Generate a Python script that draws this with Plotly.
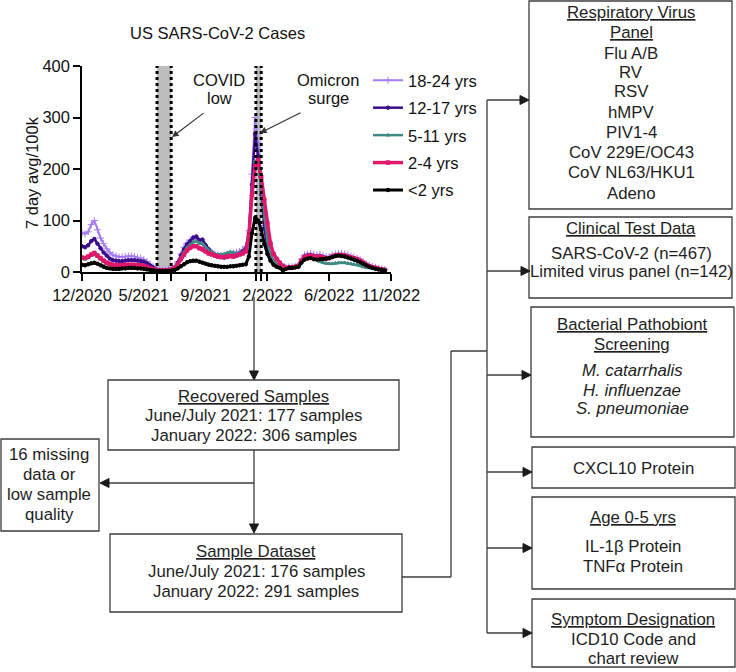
import plotly.graph_objects as go
import pandas as pd

W, H = 736, 672
FONT = "Arial, Liberation Sans, sans-serif"
FS = 16.8  # flowchart font size

# ---------------- data ----------------
week_dates = pd.date_range("2020-12-15", periods=99, freq="7D")

age_18_24 = [76, 74, 78, 92, 100, 82, 66, 55, 45, 38,
             33, 31, 29, 29, 30, 31, 31, 30, 28, 27,
             24, 20, 15, 10, 6, 4, 4, 4, 5, 6,
             10, 20, 35, 48, 56, 62, 65, 63, 58, 55,
             48, 42, 38, 35, 33, 32, 32, 34, 36, 36,
             38, 40, 43, 50, 80, 190, 300, 250, 160, 90,
             50, 30, 20, 14, 11, 8, 9, 10, 10, 11,
             14, 25, 33, 35, 36, 34, 33, 34, 32, 30,
             30, 33, 35, 36, 36, 35, 33, 31, 29, 27,
             24, 20, 16, 13, 11, 9, 7, 6, 5]
age_12_17 = [50, 48, 52, 60, 64, 55, 46, 38, 32, 26,
             23, 22, 21, 21, 22, 23, 23, 23, 22, 21,
             20, 17, 13, 9, 5, 3, 3, 3, 4, 5,
             9, 18, 32, 44, 54, 60, 67, 69, 62, 63,
             52, 44, 38, 33, 30, 29, 28, 29, 31, 31,
             33, 36, 40, 45, 75, 170, 268, 225, 150, 85,
             48, 28, 18, 13, 10, 6, 8, 9, 9, 10,
             12, 22, 30, 32, 33, 31, 30, 31, 29, 27,
             27, 30, 32, 33, 33, 32, 30, 28, 27, 25,
             22, 18, 14, 11, 9, 8, 6, 5, 4]
age_5_11 = [26, 25, 28, 32, 34, 30, 25, 20, 16, 14,
            12, 11, 11, 11, 12, 12, 12, 12, 12, 11,
            10, 9, 6, 4, 3, 3, 3, 3, 4, 5,
            8, 16, 28, 38, 47, 53, 58, 60, 56, 55,
            48, 42, 38, 35, 34, 34, 35, 37, 39, 38,
            36, 36, 38, 42, 70, 150, 215, 212, 160, 105,
            60, 35, 22, 15, 11, 6, 7, 8, 8, 9,
            11, 20, 27, 29, 30, 27, 24, 20, 18, 17,
            16, 16, 17, 18, 18, 18, 17, 16, 15, 14,
            12, 10, 9, 8, 7, 6, 5, 4, 4]
age_2_4 = [28, 27, 30, 34, 37, 32, 27, 22, 18, 16,
           14, 13, 13, 13, 14, 14, 14, 14, 13, 13,
           12, 10, 7, 5, 4, 3, 3, 3, 4, 5,
           8, 15, 25, 34, 42, 47, 50, 50, 46, 44,
           40, 36, 34, 32, 30, 29, 29, 30, 31, 30,
           32, 34, 36, 40, 70, 150, 205, 218, 185, 140,
           95, 55, 35, 25, 18, 12, 8, 8, 9, 10,
           12, 22, 29, 31, 32, 30, 29, 30, 28, 26,
           27, 30, 32, 33, 33, 32, 30, 28, 26, 25,
           22, 18, 14, 11, 9, 8, 6, 5, 4]
age_lt2 = [14, 13, 15, 17, 18, 16, 13, 10, 8, 7,
           6, 6, 6, 7, 7, 8, 8, 8, 7, 7,
           6, 5, 4, 3, 2, 2, 2, 2, 2, 3,
           4, 7, 11, 15, 19, 21, 22, 22, 20, 18,
           16, 14, 13, 12, 11, 10, 10, 10, 11, 11,
           12, 13, 14, 15, 30, 75, 105, 100, 82, 55,
           35, 22, 14, 10, 8, 3, 6, 8, 8, 9,
           10, 18, 24, 26, 27, 25, 24, 25, 25, 26,
           27, 29, 31, 32, 31, 30, 28, 26, 24, 22,
           19, 16, 13, 10, 8, 6, 5, 4, 3]

tick_dates = ["2020-12-15", "2021-05-04", "2021-06-03", "2021-07-05", "2021-09-21",
              "2022-01-13", "2022-01-25", "2022-02-08", "2022-06-28", "2022-11-15"]
tick_labels = ["12/2020", "5/2021", "", "", "9/2021", "", "", "2/2022", "6/2022", "11/2022"]
covid_low = ["2021-06-03", "2021-07-05"]
omicron = ["2022-01-13", "2022-01-25"]
y_ticks = [0, 100, 200, 300, 400]

# ---------------- chart ----------------
fig = go.Figure()
series = [
    ("18-24 yrs", age_18_24, "#A57BF6", 2, "cross-thin", 5),
    ("12-17 yrs", age_12_17, "#3B0D8C", 2.5, "circle", 3.5),
    ("5-11 yrs", age_5_11, "#3F8A84", 2.5, "triangle-up", 3.5),
    ("2-4 yrs", age_2_4, "#E0186C", 3.5, "square", 3.5),
    ("<2 yrs", age_lt2, "#000000", 3, "circle", 3.5),
]
for name, vals, col, lw, sym, ms in series:
    fig.add_trace(go.Scatter(
        x=week_dates, y=vals, name=name, mode="lines+markers", legendgroup=name,
        line=dict(color=col, width=lw),
        marker=dict(symbol=sym, size=ms, color=col, line=dict(color=col, width=1)),
    ))

shapes = []
annotations = []

for band in (covid_low, omicron):
    shapes.append(dict(type="rect", xref="x", yref="y", x0=band[0], x1=band[1], y0=0, y1=400,
                       fillcolor="#BDBDBD", line=dict(width=0), layer="below"))
    for d in band:
        shapes.append(dict(type="line", xref="x", yref="y", x0=d, x1=d, y0=0, y1=400,
                           line=dict(color="black", width=3, dash="dot")))

LC = "#3c3c3c"
TC = "#1e1e1e"


def px(x):
    return x / W


def py(y):
    return 1 - y / H


def rect(x0, y0, x1, y1):
    shapes.append(dict(type="rect", xref="paper", yref="paper", x0=px(x0), x1=px(x1),
                       y0=py(y1), y1=py(y0), line=dict(color=LC, width=1.3),
                       fillcolor="rgba(0,0,0,0)"))


def seg(x0, y0, x1, y1):
    shapes.append(dict(type="line", xref="paper", yref="paper", x0=px(x0), y0=py(y0),
                       x1=px(x1), y1=py(y1), line=dict(color=LC, width=1.3)))


def head(x, y, d, L=9, hw=4.5):
    if d == "right":
        pts = [(x, y), (x - L, y - hw), (x - L, y + hw)]
    elif d == "left":
        pts = [(x, y), (x + L, y - hw), (x + L, y + hw)]
    else:  # down
        pts = [(x, y), (x - hw, y - L), (x + hw, y - L)]
    path = "M " + " L ".join(f"{px(a):.5f},{py(b):.5f}" for a, b in pts) + " Z"
    shapes.append(dict(type="path", xref="paper", yref="paper", path=path,
                       fillcolor="#1a1a1a", line=dict(color="#1a1a1a", width=1)))


def arrow(x0, y0, x1, y1, d):
    L = 9
    if d == "right":
        seg(x0, y0, x1 - L + 1, y1)
    elif d == "left":
        seg(x0, y0, x1 + L - 1, y1)
    else:
        seg(x0, y0, x1, y1 - L + 1)
    head(x1, y1, d)


def txt(x, y, s, size=FS, color=TC):
    annotations.append(dict(x=px(x), y=py(y), xref="paper", yref="paper", text=s,
                            showarrow=False, xanchor="center", yanchor="middle",
                            font=dict(family=FONT, size=size, color=color)))


# chart title and labels
txt(217, 33, "US SARS-CoV-2 Cases", 16.5, "#111")
annotations.append(dict(x=px(32), y=py(173), xref="paper", yref="paper", text="7 day avg/100k",
                        textangle=-90, showarrow=False, xanchor="center", yanchor="middle",
                        font=dict(family=FONT, size=16.5, color="#111")))
txt(219, 80, "COVID", 16.5, "#111")
txt(219, 98, "low", 16.5, "#111")
txt(328, 80, "Omicron", 16.5, "#111")
txt(328, 98, "surge", 16.5, "#111")
for hx, hy, axp, ayp in [(172, 137, 33, -25), (260, 133, 42, -21)]:
    annotations.append(dict(x=px(hx), y=py(hy), xref="paper", yref="paper", text="",
                            showarrow=True, ax=axp, ay=ayp, arrowhead=2, arrowsize=1.1,
                            arrowwidth=1.2, arrowcolor="#333"))

# ---------------- flowchart ----------------
arrow(254, 297, 254, 380, "down")
rect(108, 380, 399, 450)
txt(254, 396, "<u>Recovered Samples</u>")
txt(254, 415, "June/July 2021: 177 samples")
txt(254, 435, "January 2022: 306 samples")

arrow(254, 450, 254, 533, "down")
arrow(254, 483, 100, 483, "left")
rect(1, 439, 99, 531)
for yy, s in zip([454, 474, 494, 514], ["16 missing", "data or", "low sample", "quality"]):
    txt(49, yy, s)

rect(110, 534, 402, 612)
txt(256, 551, "<u>Sample Dataset</u>")
txt(256, 571, "June/July 2021: 176 samples")
txt(256, 591, "January 2022: 291 samples")

seg(402, 577, 451, 577)
seg(451, 577, 451, 351)
seg(451, 351, 487, 351)
seg(487, 100, 487, 633)

rect(529, 1, 732, 209)
rvp = ["<u>Respiratory Virus</u>", "<u>Panel</u>", "Flu A/B", "RV", "RSV", "hMPV", "PIV1-4",
       "CoV 229E/OC43", "CoV NL63/HKU1", "Adeno"]
for yy, s in zip([12, 32, 53, 73, 92, 113, 133, 153, 173, 193], rvp):
    txt(631, yy, s)
arrow(487, 100, 529, 100, "right")

rect(529, 217, 732, 298)
txt(631, 228, "<u>Clinical Test Data</u>")
txt(631, 253, "SARS-CoV-2 (n=467)")
txt(631, 271, "Limited virus panel (n=142)")
arrow(487, 271, 530, 271, "right")

rect(531, 307, 734, 437)
txt(632, 324, "<u>Bacterial Pathobiont</u>")
txt(632, 344, "<u>Screening</u>")
txt(632, 370, "<i>M. catarrhalis</i>")
txt(632, 390, "<i>H. influenzae</i>")
txt(632, 409, "<i>S. pneumoniae</i>")
arrow(487, 375, 531, 375, "right")

rect(532, 447, 735, 488)
txt(633, 468, "CXCL10 Protein")
arrow(487, 472, 532, 472, "right")

rect(532, 497, 735, 589)
txt(633, 517, "<u>Age 0-5 yrs</u>")
txt(633, 546, "IL-1β Protein")
txt(633, 566, "TNFα Protein")
arrow(487, 548, 532, 548, "right")

rect(532, 599, 735, 667)
txt(633, 619, "<u>Symptom Designation</u>")
txt(633, 639, "ICD10 Code and")
txt(633, 658, "chart review")
arrow(487, 633, 532, 633, "right")

axis_common = dict(showline=True, linecolor="black", linewidth=1.5, ticks="outside",
                   ticklen=7, tickwidth=1.5, tickcolor="black", showgrid=False,
                   zeroline=False, automargin=False, tickangle=0,
                   tickfont=dict(family=FONT, size=16.5, color="#111"))

fig.update_layout(
    template="none",
    width=W, height=H, autosize=False,
    margin=dict(l=0, r=0, t=0, b=0, pad=0),
    paper_bgcolor="white", plot_bgcolor="white",
    font=dict(family=FONT, color="#111"),
    xaxis=dict(type="date", domain=[px(82), px(391)], range=["2020-12-15", "2022-11-15"],
               tickmode="array", tickvals=tick_dates, ticktext=tick_labels, **axis_common),
    yaxis=dict(domain=[py(272), py(66)], range=[0, 400], tickmode="array",
               tickvals=y_ticks, **axis_common),
    legend=dict(x=px(368), y=py(63), xanchor="left", yanchor="top",
                font=dict(family=FONT, size=16.5, color="#111"),
                bgcolor="rgba(0,0,0,0)", borderwidth=0,
                traceorder="reversed+grouped", tracegroupgap=3),
    shapes=shapes,
    annotations=annotations,
    showlegend=True,
)

fig.write_html("out.html", config={"displayModeBar": False},
               post_script="document.body.style.margin='0';document.body.style.overflow='hidden';")
